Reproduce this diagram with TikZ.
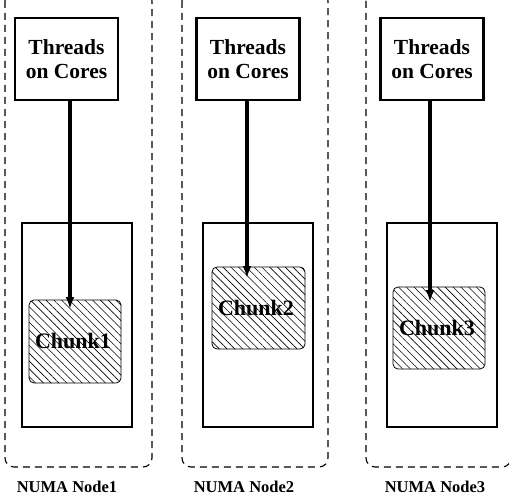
\documentclass[tikz,border=0pt]{standalone}
\usepackage{fontspec}
\setmainfont{Liberation Serif}
\usetikzlibrary{patterns.meta,arrows.meta}
\begin{document}
\begin{tikzpicture}[x=1pt,y=-1pt,
  numabox/.style={draw,dash pattern=on 7pt off 5pt,line width=1.1pt,rounded corners=9pt},
  threadbox/.style={draw,line width=2.2pt,fill=white,inner sep=0pt,minimum width=103pt,minimum height=82pt,align=center,font=\fontsize{21.5}{23.5}\selectfont\bfseries},
  memrect/.style={draw,line width=2.2pt},
  chunkbox/.style={draw,line width=0.8pt,rounded corners=5pt,pattern={Lines[angle=-45,distance=5.5pt,line width=0.6pt]}},
  chunklabel/.style={font=\fontsize{22}{24}\selectfont\bfseries},
  numalabel/.style={font=\fontsize{16.5}{19}\selectfont\bfseries},
  link/.style={line width=3.2pt,-{Latex[length=12pt,width=9pt]}}]
\useasboundingbox (0,0) rectangle (509,503);
% NUMA nodes (dashed)
\draw[numabox] (5,-8) rectangle (152,467);
\draw[numabox] (182,-8) rectangle (328,467);
\draw[numabox] (366,-8) rectangle (511,467);
% memory rectangles
\draw[memrect] (22,223) rectangle (132,427);
\draw[memrect] (203,223) rectangle (313,427);
\draw[memrect] (387,223) rectangle (497,427);
% chunks
\draw[chunkbox] (29,300) rectangle (121,383);
\node[chunklabel] (c1) at (73,341) {Chunk1};
\draw[chunkbox] (212,267) rectangle (305,349);
\node[chunklabel] (c2) at (256,308) {Chunk2};
\draw[chunkbox] (393,287) rectangle (485,369);
\node[chunklabel] (c3) at (437,328) {Chunk3};
% thread boxes
\node[threadbox] (t1) at (66.5,59) {Threads\\on Cores};
\node[threadbox] (t2) at (248,59) {Threads\\on Cores};
\node[threadbox] (t3) at (432,59) {Threads\\on Cores};
% arrow tips
\coordinate (p1) at (70,309);
\coordinate (p2) at (247,278);
\coordinate (p3) at (430,302);
\draw[link] (t1.south -| p1) -- (p1);
\draw[link] (t2.south -| p2) -- (p2);
\draw[link] (t3.south -| p3) -- (p3);
% labels
\node[numalabel] (l1) at (67,487) {NUMA Node1};
\node[numalabel] (l2) at (244,487) {NUMA Node2};
\node[numalabel] (l3) at (435,487) {NUMA Node3};
\end{tikzpicture}
\end{document}
